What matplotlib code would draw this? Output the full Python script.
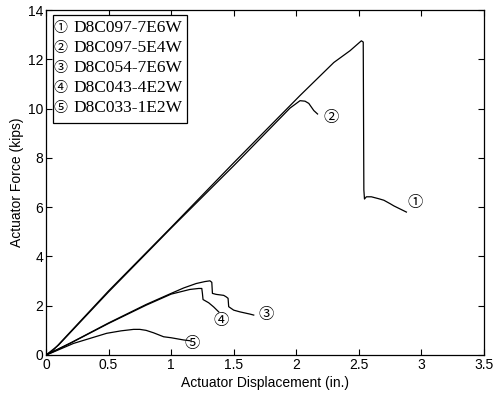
import matplotlib
matplotlib.use("Agg")
import matplotlib.pyplot as plt
from matplotlib.patches import Rectangle

# Specimen names
names = ["D8C097-7E6W", "D8C097-5E4W", "D8C054-7E6W", "D8C043-4E2W", "D8C033-1E2W"]
marks = ["\u2460", "\u2461", "\u2462", "\u2463", "\u2464"]

# Curve 1
x1 = [0, 0.05, 0.5, 1.0, 1.5, 2.03, 2.3, 2.43, 2.52, 2.535, 2.54, 2.545, 2.56, 2.6, 2.66, 2.7, 2.75, 2.78, 2.88]
y1 = [0, 0.15, 2.6, 5.18, 7.8, 10.53, 11.87, 12.35, 12.75, 12.7, 6.7, 6.33, 6.42, 6.42, 6.34, 6.28, 6.14, 6.05, 5.8]
# Curve 2
x2 = [0, 0.1, 0.5, 1.0, 1.5, 1.85, 1.95, 2.03, 2.07, 2.1, 2.14, 2.17]
y2 = [0, 0.4, 2.56, 5.15, 7.68, 9.5, 10.02, 10.32, 10.3, 10.21, 9.92, 9.78]
# Curve 3
x3 = [0, 0.05, 0.2, 0.5, 0.8, 1.0, 1.1, 1.2, 1.27, 1.31, 1.325, 1.33, 1.36, 1.42, 1.44, 1.455, 1.46, 1.5, 1.55, 1.63, 1.66]
y3 = [0, 0.12, 0.5, 1.3, 2.05, 2.5, 2.72, 2.9, 2.98, 3.01, 2.95, 2.5, 2.46, 2.42, 2.36, 2.3, 1.96, 1.82, 1.75, 1.66, 1.62]
# Curve 4
x4 = [0, 0.05, 0.2, 0.5, 0.8, 1.0, 1.15, 1.22, 1.245, 1.25, 1.255, 1.3, 1.34, 1.38]
y4 = [0, 0.12, 0.49, 1.28, 2.02, 2.47, 2.66, 2.7, 2.7, 2.5, 2.25, 2.12, 1.95, 1.75]
# Curve 5
x5 = [0, 0.05, 0.22, 0.485, 0.6, 0.7, 0.75, 0.8, 0.86, 0.94, 1.0, 1.1, 1.15]
y5 = [0, 0.1, 0.47, 0.88, 0.98, 1.04, 1.04, 1.0, 0.9, 0.74, 0.7, 0.61, 0.58]

label_x = [2.95, 2.28, 1.76, 1.40, 1.165]
label_y = [6.2, 9.65, 1.66, 1.39, 0.47]

plt.rcParams['font.family'] = ['Liberation Sans', 'DejaVu Sans']
fig = plt.figure(figsize=(4.96, 3.97), dpi=100)
ax = fig.add_axes([0.0927, 0.1058, 0.8831, 0.869])

for xs, ys in [(x1, y1), (x2, y2), (x3, y3), (x4, y4), (x5, y5)]:
    ax.plot(xs, ys, color='black', lw=0.9)

circ_font = ['Noto Sans CJK JP', 'DejaVu Sans']
for m, lx, ly in zip(marks, label_x, label_y):
    ax.text(lx, ly, m, ha='center', va='center', fontsize=11, family=circ_font)

ax.set_xlim(0, 3.5)
ax.set_ylim(0, 14)
ax.set_xticks([0, 0.5, 1, 1.5, 2, 2.5, 3, 3.5])
ax.set_xticklabels(['0', '0.5', '1', '1.5', '2', '2.5', '3', '3.5'])
ax.set_yticks(range(0, 15, 2))
ax.tick_params(direction='in', top=True, right=True, labelsize=10, length=4, width=0.8, pad=2)
for s in ax.spines.values():
    s.set_linewidth(0.9)
ax.set_xlabel('Actuator Displacement (in.)', fontsize=10, labelpad=3)
ax.set_ylabel('Actuator Force (kips)', fontsize=10, labelpad=3)

ax.add_patch(Rectangle((0.0153, 0.672), 0.3057, 0.3135, transform=ax.transAxes,
                       fill=True, facecolor='white', edgecolor='black', lw=0.9, zorder=5))
rows = [0.9469, 0.889, 0.831, 0.773, 0.715]
for m, n, ry in zip(marks, names, rows):
    ax.text(0.032, ry, m, transform=ax.transAxes, ha='center', va='center',
            fontsize=10, family=circ_font, zorder=6)
    ax.text(0.0616, ry, n, transform=ax.transAxes, ha='left', va='center',
            fontsize=12.5, family=['Liberation Serif'], zorder=6)

fig.savefig('out.png', dpi=100)
